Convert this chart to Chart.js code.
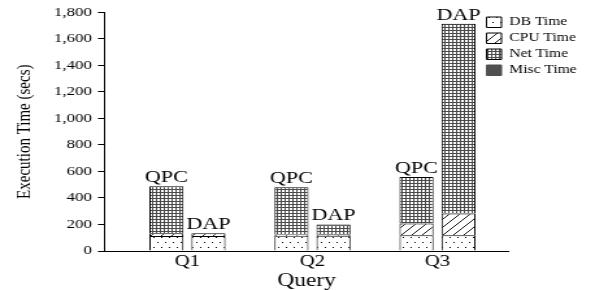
<!DOCTYPE html>
<html><head><meta charset="utf-8">
<script src="https://cdn.jsdelivr.net/npm/chart.js@4/dist/chart.umd.min.js"></script>
<style>html,body{margin:0;padding:0;background:#fff;overflow:hidden}
#c{display:block}</style>
</head><body>
<canvas id="c" width="458" height="290" style="width:595px;height:290px"></canvas>
<script>
// ---- data ----
const categories = ['Q1', 'Q2', 'Q3'];
const systems = ['QPC', 'DAP'];
const components = ['DB Time', 'CPU Time', 'Net Time', 'Misc Time'];
const qpcDB   = [113, 115, 118];
const qpcCPU  = [20, 10, 90];
const qpcNet  = [355, 356, 350];
const qpcMisc = [0, 0, 0];
const dapDB   = [113, 115, 118];
const dapCPU  = [20, 8, 165];
const dapNet  = [0, 77, 1432];
const dapMisc = [0, 0, 0];
const yMin = 0, yMax = 1800, yStep = 200;

// ---- patterns ----
const mainCtx = document.getElementById('c').getContext('2d');
function makePattern(w, h, draw) {
  const c = document.createElement('canvas');
  c.width = w; c.height = h;
  const g = c.getContext('2d');
  g.fillStyle = '#fff'; g.fillRect(0, 0, w, h);
  draw(g, w, h);
  return mainCtx.createPattern(c, 'repeat');
}
const dbFill = makePattern(6, 10, g => { g.fillStyle = '#000'; g.fillRect(1, 2, 1, 1); g.fillRect(4, 7, 1, 1); });
const cpuFill = makePattern(8, 8, (g, w, h) => {
  g.strokeStyle = '#000'; g.lineWidth = 0.9;
  for (const o of [-8, 0, 8]) { g.beginPath(); g.moveTo(o - 1, h + 1); g.lineTo(o + w + 1, -1); g.stroke(); }
});
const netFill = makePattern(3, 3, g => { g.fillStyle = '#4a4a4a'; g.fillRect(0, 0, 3, 1); g.fillRect(0, 0, 1, 3); });
const miscFill = '#505050';
const fills = [dbFill, cpuFill, netFill, miscFill];
const borders = ['#000', '#000', '#000', '#505050'];

const seriesBySystem = [[qpcDB, qpcCPU, qpcNet, qpcMisc], [dapDB, dapCPU, dapNet, dapMisc]];
const datasets = [];
systems.forEach((s, si) => {
  components.forEach((comp, ci) => {
    datasets.push({
      label: comp, stack: s, data: seriesBySystem[si][ci],
      backgroundColor: fills[ci], borderColor: borders[ci], borderWidth: 1, borderSkipped: 'start'
    });
  });
});

const FONT = 'Liberation Serif';

const legendPlace = {
  id: 'legendPlace',
  afterLayout(chart) {
    const lg = chart.legend; if (!lg) return;
    const pad = lg.options.labels.padding;
    const w = lg.width, h = lg.height;
    lg.left = 374.5 - pad; lg.right = lg.left + w;
    lg.top = 16.25 - pad; lg.bottom = lg.top + h;
  }
};

const stackLabels = {
  id: 'stackLabels',
  afterDatasetsDraw(chart) {
    const ctx = chart.ctx;
    ctx.save();
    ctx.font = '17px "' + FONT + '"';
    ctx.fillStyle = '#000'; ctx.textAlign = 'center'; ctx.textBaseline = 'alphabetic';
    systems.forEach((s, si) => {
      const meta = chart.getDatasetMeta(si * components.length + components.length - 1);
      meta.data.forEach(el => ctx.fillText(s, el.x, el.y - 4));
    });
    ctx.restore();
  }
};

new Chart(mainCtx, {
  type: 'bar',
  data: { labels: categories.map((c, i) => i + 1), datasets },
  options: {
    responsive: false, animation: false, devicePixelRatio: 1,
    layout: { padding: { left: 0, top: 11, right: 458 - 391.8, bottom: 0 } },
    datasets: { bar: { categoryPercentage: 0.672, barPercentage: 0.81 } },
    plugins: {
      tooltip: { enabled: false },
      legend: {
        position: 'chartArea', align: 'start',
        labels: {
          boxWidth: 11.5, boxHeight: 10.5, padding: 4, color: '#000',
          font: { family: FONT, size: 12 },
          filter: (it) => it.datasetIndex < components.length
        }
      }
    },
    scales: {
      x: {
        type: 'linear', stacked: true, offset: false, min: 0.332, max: 3.572,
        afterBuildTicks: s => { s.ticks = categories.map((c, i) => ({ value: i + 1 })); },
        afterFit: s => { s.height = 39; },
        grid: { display: false, drawTicks: false, offset: false },
        border: { display: true, color: '#000', width: 1 },
        ticks: { padding: 1, color: '#000', font: { family: FONT, size: 16 },
          callback: v => categories[Math.round(v) - 1] ?? '' },
        title: { display: true, text: 'Query', color: '#000',
          font: { family: FONT, size: 18, lineHeight: 1 }, padding: { top: 0, bottom: 0 } }
      },
      y: {
        stacked: true, min: yMin, max: yMax,
        afterFit: s => { s.width = 80; },
        ticks: { stepSize: yStep, color: '#000', padding: 4.6, font: { family: FONT, size: 13 },
          callback: v => Number(v).toLocaleString('en-US') },
        grid: { display: true, drawOnChartArea: false, drawTicks: true, tickLength: 4.6, color: '#000' },
        border: { display: true, color: '#000', width: 1 },
        title: { display: true, text: 'Execution Time (secs)', color: '#000',
          font: { family: FONT, size: 15 }, padding: { top: 10.2, bottom: 0 } }
      }
    }
  },
  plugins: [legendPlace, stackLabels]
});
</script>
</body></html>
